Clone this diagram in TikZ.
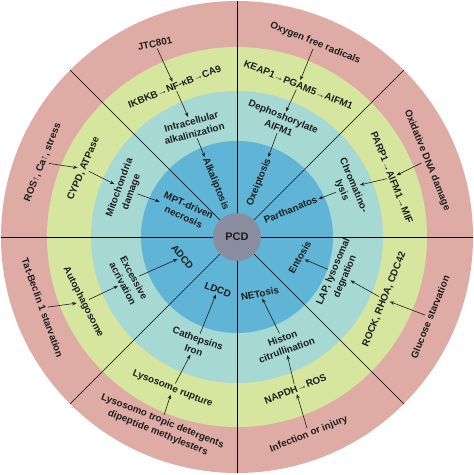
\documentclass[tikz,border=0pt]{standalone}
\usepackage{fontspec}
\setmainfont{Liberation Sans}
\usetikzlibrary{arrows.meta}
\definecolor{ring-pink}{RGB}{222,171,165}
\definecolor{ring-green}{RGB}{214,230,158}
\definecolor{ring-teal}{RGB}{166,216,212}
\definecolor{ring-blue}{RGB}{96,180,214}
\definecolor{pcd-grey}{RGB}{138,141,160}
\definecolor{label-ink}{RGB}{30,30,30}

\begin{document}
\begin{tikzpicture}[x=1pt, y=1pt,
          lbl/.style={
            font=\fontsize{9.8}{12.5}\selectfont\bfseries, text=label-ink,
            align=center, inner sep=1.5pt},
          arr/.style={-{Stealth[length=4.5pt,width=3.5pt]}, draw=label-ink,
            line width=0.6pt},
          divider/.style={draw=black, line width=0.7pt}
        ]
        \useasboundingbox (-237,-238) rectangle (237,237);
        \fill[ring-pink] (0,0) circle (236pt);
        \fill[ring-green] (0,0) circle (190pt);
        \fill[ring-teal] (0,0) circle (146pt);
        \fill[ring-blue] (0,0) circle (96pt);
        \foreach \a in {0,45,...,315}
          \draw[divider] (0,0) -- (\a:236);
        \node[circle, fill=pcd-grey, minimum size=48pt, inner sep=0pt, lbl,
          font=\fontsize{11}{13}\selectfont\bfseries] (pcd) at (0,0) {PCD};

        \node[lbl, rotate=12] (jtc) at (113:210) {JTC801};
        \node[lbl, rotate=22] (nfkb) at (112.5:163) {IKBKB→NF-κB→CA9};
        \node[lbl, rotate=15] (alkal) at (112:118) {Intracellular\\alkalinization};
        \node[lbl, rotate=-68] (alkaliptosis) at (112:57) {Alkaliptosis};

        \node[lbl, rotate=68] (ros) at (159:208) {ROS↑, Ca↑, stress};
        \node[lbl, rotate=67] (cypd) at (156:168) {CYPD, ATPase};
        \node[lbl, rotate=70] (mito) at (157:121) {Mitochondria\\damage};
        \node[lbl, rotate=-24] (mpt) at (153:57) {MPT-driven\\necrosis};

        \node[lbl, rotate=-70] (tat) at (200:207) {Tat-Beclin 1 starvation};
        \node[lbl, rotate=-63] (autoph) at (203:167) {Autophagosome};
        \node[lbl, rotate=-62] (excess) at (202:117) {Excessive\\acrivation};
        \node[lbl, rotate=-50] (adcd) at (200:58) {ADCD};

        \node[lbl, rotate=-22] (lysotrop) at (248:205) {Lysosomo tropic detergents\\dipeptide methylesters};
        \node[lbl, rotate=-22] (rupture) at (247:165) {Lysosome rupture};
        \node[lbl, rotate=-20] (cath) at (249:115) {Cathepsins\\Iron};
        \node[lbl, rotate=-20] (ldcd) at (250:56) {LDCD};

        \node[lbl, rotate=22] (infect) at (290:210) {Infection or injury};
        \node[lbl, rotate=22] (napdh) at (291:163) {NAPDH→ROS};
        \node[lbl, rotate=20] (histon) at (294:117) {Histon\\citrullination};
        \node[lbl, rotate=12] (netosis) at (292:61) {NETosis};

        \node[lbl, rotate=68] (glucose) at (337.5:209) {Glucose starvation};
        \node[lbl, rotate=68] (rock) at (337:160) {ROCK, RHOA, CDC42};
        \node[lbl, rotate=67] (lap) at (340:109) {LAP, lysosomal\\degration};
        \node[lbl, rotate=60] (entosis) at (342:66) {Entosis};

        \node[lbl, rotate=-68] (oxdna) at (22:205) {Oxidative DNA damage};
        \node[lbl, rotate=-68] (parp) at (21:166) {PARP1→AIFM1→MIF};
        \node[lbl, rotate=-67] (chromat) at (24:121) {Chromatino-\\lysis};
        \node[lbl, rotate=22] (parth) at (27:60) {Parthanatos};

        \node[lbl, rotate=-22] (oxyrad) at (68:209) {Oxygen free radicals};
        \node[lbl, rotate=-22] (keap) at (68:164) {KEAP1→PGAM5→AIFM1};
        \node[lbl, rotate=-22] (dephos) at (69:123) {Dephoshorylate\\AIFM1};
        \node[lbl, rotate=68] (oxeip) at (68:59) {Oxeiptosis};

        \draw[arr] (jtc) -- (nfkb);
        \draw[arr] (nfkb) -- (alkal);
        \draw[arr] (alkal) -- (alkaliptosis);
        \draw[arr] (ros) -- (cypd);
        \draw[arr] (cypd) -- (mito);
        \draw[arr] (mito) -- (mpt);
        \draw[arr] (tat) -- (autoph);
        \draw[arr] (autoph) -- (excess);
        \draw[arr] (excess) -- (adcd);
        \draw[arr] (lysotrop) -- (rupture);
        \draw[arr] (rupture) -- (cath);
        \draw[arr] (cath) -- (ldcd);
        \draw[arr] (infect) -- (napdh);
        \draw[arr] (napdh) -- (histon);
        \draw[arr] (histon) -- (netosis);
        \draw[arr] (glucose) -- (rock);
        \draw[arr] (rock) -- (lap);
        \draw[arr] (lap) -- (entosis);
        \draw[arr] (oxdna) -- (parp);
        \draw[arr] (parp) -- (chromat);
        \draw[arr] (chromat) -- (parth);
        \draw[arr] (oxyrad) -- (keap);
        \draw[arr] (keap) -- (dephos);
        \draw[arr] (dephos) -- (oxeip);
      \end{tikzpicture}
\end{document}
